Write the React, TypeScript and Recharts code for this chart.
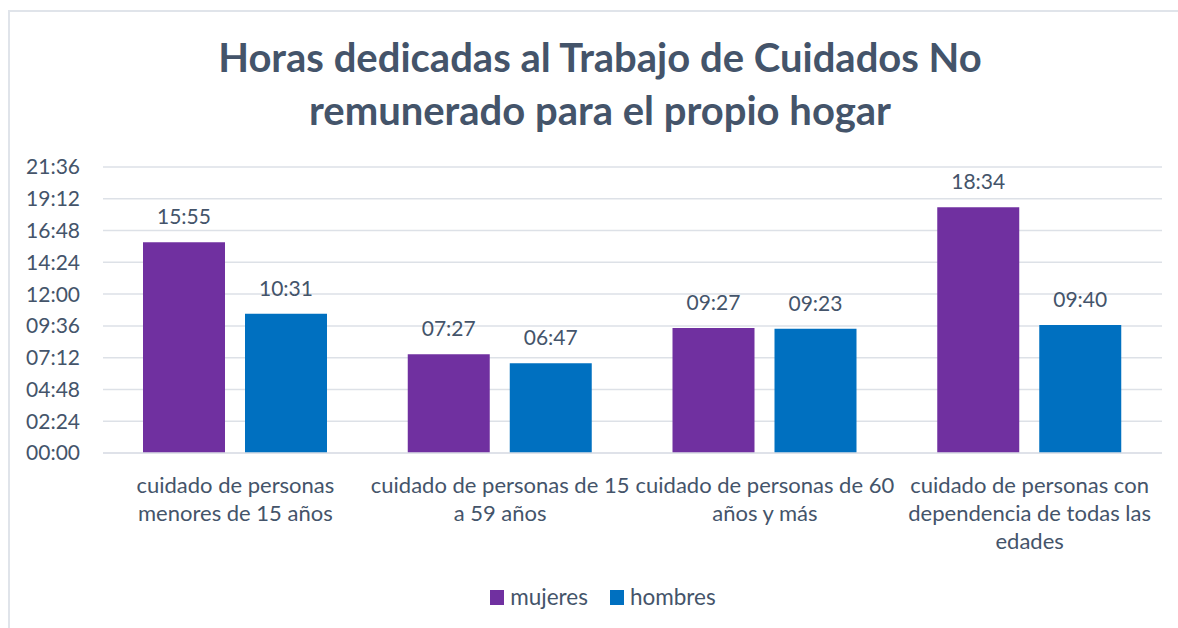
import React from 'react';
import { BarChart, Bar, XAxis, YAxis, CartesianGrid, Legend, LabelList } from 'recharts';

const titleLines = ['Horas dedicadas al Trabajo de Cuidados No', 'remunerado para el propio hogar'];

const categories = [
  'cuidado de personas\nmenores de 15 años',
  'cuidado de personas de 15\na 59 años',
  'cuidado de personas de 60\naños y más',
  'cuidado de personas con\ndependencia de todas las\nedades',
];

// values in minutes (hh:mm)
const mujeres = [955, 447, 567, 1114];
const hombres = [631, 407, 563, 580];

const seriesOrder = ['mujeres', 'hombres'];

const yTicks = [0, 144, 288, 432, 576, 720, 864, 1008, 1152, 1296];

const TEXT = '#44546A';
const FONT = 'Lato, "Open Sans", sans-serif';

const data = categories.map((c, i) => ({ name: c, mujeres: mujeres[i], hombres: hombres[i] }));

const pad = (n: number) => String(n).padStart(2, '0');
const fmt = (m: number) => `${pad(Math.floor(m / 60))}:${pad(Math.round(m % 60))}`;

const CategoryTick = (props: any) => {
  const { x, y, payload } = props;
  const lines = String(payload.value).split('\n');
  return (
    <g>
      {lines.map((l, i) => (
        <text
          key={i}
          x={x}
          y={y + 40 + i * 28}
          textAnchor="middle"
          fill={TEXT}
          fontSize={22}
          fontFamily={FONT}
        >
          {l}
        </text>
      ))}
    </g>
  );
};

const LegendContent = (props: any) => {
  const items = [...(props.payload || [])].sort(
    (a: any, b: any) => seriesOrder.indexOf(a.value) - seriesOrder.indexOf(b.value)
  );
  return (
    <div style={{ display: 'flex', justifyContent: 'center', alignItems: 'center', height: 26 }}>
      {items.map((p: any, i: number) => (
        <div key={i} style={{ display: 'flex', alignItems: 'center', marginRight: i === 0 ? 22 : 0 }}>
          <span style={{ width: 14, height: 15, background: p.color, display: 'inline-block', marginRight: 6 }} />
          <span style={{ color: TEXT, fontSize: 22.5, fontFamily: FONT, lineHeight: '26px' }}>{p.value}</span>
        </div>
      ))}
    </div>
  );
};

export default function App() {
  return (
    <div style={{ position: 'fixed', left: 0, top: 0, width: 1178, height: 628, overflow: 'hidden', background: '#fff' }}>
      <div
        style={{
          position: 'absolute',
          left: 8,
          top: 10,
          width: 1180,
          height: 640,
          borderTop: '2px solid #E0E4EA',
          borderLeft: '2px solid #E0E4EA',
        }}
      />
      <svg style={{ position: 'absolute', left: 0, top: 0 }} width={1178} height={140}>
        {titleLines.map((t, i) => (
          <text
            key={i}
            x={600}
            y={72 + i * 53}
            textAnchor="middle"
            fill={TEXT}
            fontSize={40}
            fontWeight={700}
            fontFamily={FONT}
          >
            {t}
          </text>
        ))}
      </svg>
      <div style={{ position: 'absolute', left: 0, top: 0 }}>
        <BarChart
          width={1178}
          height={628}
          data={data}
          margin={{ top: 167, right: 16, left: 0, bottom: 75 }}
          barSize={82}
          barGap={20}
        >
          <CartesianGrid vertical={false} stroke="#DDE1E7" strokeWidth={1.5} />
          <XAxis
            dataKey="name"
            height={100}
            tickLine={false}
            tickSize={0}
            tickMargin={0}
            axisLine={{ stroke: '#DDE1E7', strokeWidth: 1.5 }}
            tick={<CategoryTick />}
            interval={0}
          />
          <YAxis
            width={103}
            domain={[0, 1296]}
            ticks={yTicks}
            tickFormatter={fmt}
            axisLine={false}
            tickLine={false}
            tickMargin={17}
            tick={{ fill: TEXT, fontSize: 21, fontFamily: FONT }}
            interval={0}
          />
          <Legend
            verticalAlign="middle"
            wrapperStyle={{ top: 584, left: 14, width: 1178 }}
            content={<LegendContent />}
          />
          <Bar dataKey="mujeres" name="mujeres" fill="#7030A0" isAnimationActive={false}>
            <LabelList
              dataKey="mujeres"
              position="top"
              offset={18}
              formatter={(v: any) => fmt(Number(v))}
              fill={TEXT}
              fontSize={21}
              fontFamily={FONT}
            />
          </Bar>
          <Bar dataKey="hombres" name="hombres" fill="#0070C0" isAnimationActive={false}>
            <LabelList
              dataKey="hombres"
              position="top"
              offset={18}
              formatter={(v: any) => fmt(Number(v))}
              fill={TEXT}
              fontSize={21}
              fontFamily={FONT}
            />
          </Bar>
        </BarChart>
      </div>
    </div>
  );
}
